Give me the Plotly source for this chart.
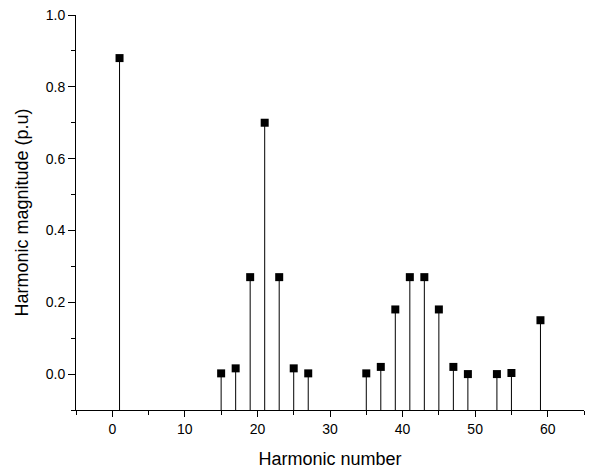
import plotly.graph_objects as go

harmonic = [1, 15, 17, 19, 21, 23, 25, 27, 35, 37, 39, 41, 43, 45, 47, 49, 53, 55, 59]
magnitude = [0.88, 0.002, 0.016, 0.27, 0.70, 0.27, 0.016, 0.002, 0.002, 0.02, 0.18, 0.27,
             0.27, 0.18, 0.02, 0.0, 0.0, 0.003, 0.15]
y_base = -0.1

stem_x, stem_y = [], []
for h, m in zip(harmonic, magnitude):
    stem_x += [h, h, None]
    stem_y += [y_base, m, None]

fig = go.Figure()
fig.add_trace(go.Scatter(x=stem_x, y=stem_y, mode="lines",
                         line=dict(color="black", width=1), hoverinfo="skip",
                         showlegend=False))
fig.add_trace(go.Scatter(x=harmonic, y=magnitude, mode="markers",
                         marker=dict(symbol="square", size=8, color="black"),
                         showlegend=False, cliponaxis=False))

font = "Liberation Sans, Arial, sans-serif"
fig.update_layout(
    width=589, height=470,
    margin=dict(l=76, r=5, t=15, b=60),
    paper_bgcolor="white", plot_bgcolor="white",
    font=dict(family=font, size=14, color="black"),
)
fig.update_xaxes(
    range=[-5, 65], tick0=0, dtick=10, showgrid=False, zeroline=False,
    showline=True, linecolor="black", linewidth=1,
    ticks="outside", ticklen=6, tickwidth=1, tickcolor="black",
    minor=dict(ticks="outside", ticklen=4, dtick=5, tick0=0, tickcolor="black", showgrid=False),
    title=dict(text="Harmonic number", font=dict(size=18), standoff=16),
    tickfont=dict(size=14),
)
fig.update_yaxes(
    range=[-0.1, 1.0], tick0=0, dtick=0.2, tickformat=".1f", showgrid=False, zeroline=False,
    showline=True, linecolor="black", linewidth=1,
    ticks="outside", ticklen=7, tickwidth=1, tickcolor="black",
    minor=dict(ticks="outside", ticklen=4, dtick=0.1, tick0=0, tickcolor="black", showgrid=False),
    title=dict(text="Harmonic magnitude (p.u)", font=dict(size=18), standoff=12),
    tickfont=dict(size=14),
)

fig.write_html("out.html")
